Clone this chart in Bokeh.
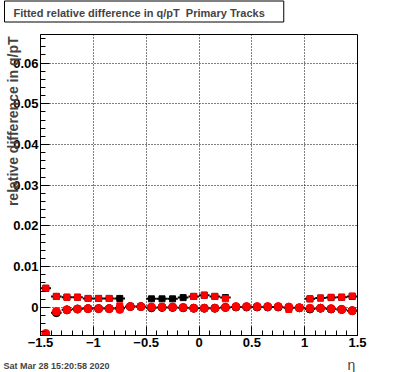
import numpy as np
from bokeh.plotting import figure
from bokeh.models import FixedTicker, Label, Range1d, CustomJSTickFormatter, ColumnDataSource, Title
from bokeh.embed import file_html
from bokeh.resources import INLINE

nan = float("nan")

eta = [-1.45, -1.35, -1.25, -1.15, -1.05, -0.95, -0.85, -0.75, -0.65, -0.55,
       -0.45, -0.35, -0.25, -0.15, -0.05, 0.05, 0.15, 0.25, 0.35, 0.45,
       0.55, 0.65, 0.75, 0.85, 0.95, 1.05, 1.15, 1.25, 1.35, 1.45]
black_sq = [0.0047, 0.0027, 0.0025, 0.0025, 0.0022, 0.0022, 0.0022, 0.0022, nan, nan,
            0.0021, 0.0021, 0.0021, 0.0024, 0.0027, 0.0030, 0.0027, 0.0024, nan, nan,
            nan, nan, nan, nan, nan, 0.0021, 0.0023, 0.0024, 0.0025, 0.0027]
red_sq = [0.0047, 0.0027, 0.0025, 0.0025, 0.0022, 0.0022, 0.0022, 0.0004, nan, nan,
          nan, nan, nan, nan, 0.0027, 0.0030, 0.0027, 0.0021, nan, nan,
          nan, nan, nan, -0.0005, 0.0000, 0.0021, 0.0023, 0.0025, 0.0025, 0.0028]
black_ci = [nan, -0.0013, -0.0006, -0.0004, -0.0003, -0.0003, -0.0003, -0.0002, 0.0002, 0.0002,
            -0.0001, 0.0000, 0.0000, -0.0001, -0.0002, -0.0002, -0.0002, 0.0000, 0.0001, 0.0001,
            0.0001, 0.0001, 0.0001, -0.0001, -0.0001, -0.0004, -0.0002, -0.0004, -0.0005, -0.0008]
red_ci = [-0.0064, -0.0010, -0.0006, -0.0004, -0.0003, -0.0003, -0.0003, -0.0005, 0.0002, 0.0002,
          0.0001, 0.0001, 0.0001, 0.0000, -0.0002, -0.0002, -0.0002, 0.0000, 0.0002, 0.0002,
          0.0002, 0.0002, 0.0002, 0.0001, -0.0001, -0.0002, -0.0002, -0.0003, -0.0005, -0.0008]

x_ticks = [-1.5, -1.0, -0.5, 0.0, 0.5, 1.0, 1.5]
y_ticks = [0.0, 0.01, 0.02, 0.03, 0.04, 0.05, 0.06]

title_text = "Fitted relative difference in q/pT\u00a0 Primary Tracks"
ytitle_text = "relative difference in q/pT"
xtitle_text = "η"
date_text = "Sat Mar 28 15:20:58 2020"

half_bin = 0.05
eta_a = np.array(eta)
src = ColumnDataSource(dict(
    eta=eta_a, lo=eta_a - half_bin, hi=eta_a + half_bin,
    bsq=np.array(black_sq), rsq=np.array(red_sq),
    bci=np.array(black_ci), rci=np.array(red_ci)))

p = figure(width=396, height=372, output_backend="svg", toolbar_location=None,
           x_range=Range1d(-1.5, 1.5), y_range=Range1d(-0.0069, 0.067),
           min_border_left=40, min_border_right=39, min_border_top=34, min_border_bottom=37)
p.background_fill_color = "white"
p.border_fill_color = "white"
p.outline_line_color = "black"
p.outline_line_width = 1
p.title.text = ""

# axes
p.xaxis.ticker = FixedTicker(ticks=x_ticks,
                             minor_ticks=list(np.round(np.arange(-1.5, 1.501, 0.1), 3)))
p.yaxis.ticker = FixedTicker(ticks=y_ticks,
                             minor_ticks=list(np.round(np.arange(-0.006, 0.0665, 0.002), 4)))
p.xaxis.formatter = CustomJSTickFormatter(code="""
  const v = Math.round(tick*10)/10;
  const s = String(Math.abs(v));
  return v < 0 ? "\u2212" + s : s;
""")
p.yaxis.formatter = CustomJSTickFormatter(code="""
  return Math.abs(tick) < 1e-9 ? "0" : tick.toFixed(2);
""")
for ax in (p.xaxis[0], p.yaxis[0]):
    ax.major_tick_in = 9
    ax.major_tick_out = 0
    ax.minor_tick_in = 5
    ax.minor_tick_out = 0
    ax.axis_line_color = "black"
    ax.major_tick_line_color = "black"
    ax.minor_tick_line_color = "black"
    ax.major_label_text_font = "Liberation Sans"
    ax.major_label_text_font_size = "13px"
    ax.major_label_text_font_style = "bold"
    ax.major_label_text_color = "black"
    ax.major_label_standoff = 2

p.grid.grid_line_color = "black"
p.grid.grid_line_dash = "1 2"
p.grid.grid_line_width = 1
p.xgrid.ticker = FixedTicker(ticks=[-1.0, -0.5, 0.0, 0.5, 1.0])

# error bars (black series)
p.segment(x0="lo", x1="hi", y0="bsq", y1="bsq", source=src, line_color="black", line_width=2)
p.segment(x0="lo", x1="hi", y0="bci", y1="bci", source=src, line_color="black", line_width=2)
# markers
p.scatter(x="eta", y="bsq", source=src, marker="square", size=6,
          fill_color="black", line_color="black")
p.scatter(x="eta", y="bci", source=src, marker="circle", size=8,
          fill_color="black", line_color="black")
p.scatter(x="eta", y="rsq", source=src, marker="square", size=6,
          fill_color="red", line_color="red")
p.scatter(x="eta", y="rci", source=src, marker="circle", size=8,
          fill_color="red", line_color="red")

# title box (side-panel annotation, not clipped to the frame)
p.add_layout(Label(x=-36, y=23, x_units="screen", y_units="screen", text=title_text,
                   text_font="Liberation Sans", text_font_style="bold", text_font_size="11px",
                   text_baseline="alphabetic", text_align="left",
                   background_fill_color="white", border_line_color="black", border_line_width=1,
                   padding=dict(left=9, right=19, top=6, bottom=3)), "above")

# y-axis title
p.add_layout(Title(text=ytitle_text, align="right", offset=2, standoff=-20,
                   text_font="Liberation Sans", text_font_style="bold",
                   text_font_size="14px"), "left")

# x-axis title
p.add_layout(Label(x=-10, y=-29, x_units="screen", y_units="screen", text=xtitle_text,
                   text_font="Liberation Sans", text_font_size="14px",
                   text_baseline="alphabetic", text_align="left"), "right")

# date stamp
p.add_layout(Label(x=-37, y=-6, x_units="screen", y_units="screen", text=date_text,
                   text_font="Liberation Sans", text_font_style="bold", text_font_size="9px",
                   text_baseline="alphabetic", text_align="left"), "below")

open("out.html", "w").write(file_html(p, INLINE))
